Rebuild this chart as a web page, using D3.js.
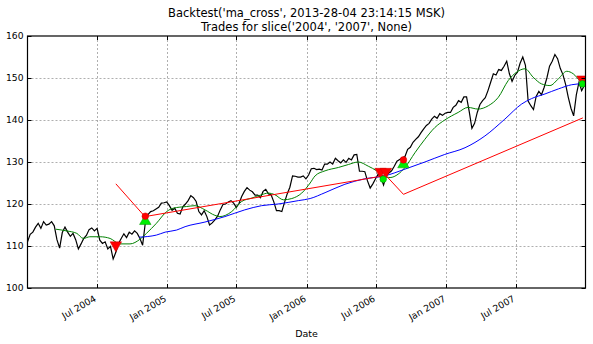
<!DOCTYPE html>
<html><head><meta charset="utf-8">
<script src="https://cdn.jsdelivr.net/npm/d3@7"></script>
<style>html,body{margin:0;padding:0;background:#fff}svg{display:block;font-family:"DejaVu Sans",sans-serif}</style>
</head><body><svg id="c" width="593" height="344"></svg>
<script>
const titleLines = ["Backtest('ma_cross', 2013-28-04 23:14:15 MSK)", "Trades for slice('2004', '2007', None)"];
const xLabel = "Date";
const xTickDates = ["2004-07-01","2005-01-01","2005-07-01","2006-01-01","2006-07-01","2007-01-01","2007-07-01"];
const xTickLabels = ["Jul 2004","Jan 2005","Jul 2005","Jan 2006","Jul 2006","Jan 2007","Jul 2007"];
const yTicks = [100,110,120,130,140,150,160];
const xDomain = ["2004-01-02","2007-12-31"];
const yDomain = [100,160];

// weekly closes, first week ending 2004-01-02
const priceStartDate = "2004-01-02";
const priceWeekly = [
111,112.8,113.3,114.5,115.4,114.2,115.8,115,115.2,115.8,
114.8,111.5,109.5,113.2,114.5,113.3,112.3,113,111.5,109.3,
110.5,111.8,112.5,113.9,114.3,113.6,114.2,111.4,110.6,111,
109.3,109.9,106.9,108.5,110.6,111.8,112.9,112.0,113.3,112.8,
113.6,113.0,111.8,110.2,115.5,117.5,118.2,118.4,118.8,119.2,
120.2,120.3,120.5,119.6,118.5,119,117.8,117.6,119.3,120,
120.8,122,121.5,120.6,118.2,117.4,118.4,117,115,115.5,
116.2,117.1,118.6,119.9,120,120.5,120.8,120.2,119.2,120.1,
121.8,123,123.9,123.3,122.9,122.1,122.1,121.5,123,123.5,
122.4,122.2,120.5,118.4,118.4,118.2,120.4,122.4,124,126.7,
126.6,126.4,126.4,126.7,126.0,126.9,128.4,128.5,128.2,128.3,
128.1,129.5,129.5,130,129.5,130.9,130.3,129.8,130.5,129.9,
130.9,130.5,131.7,131.8,127.8,127.8,127.7,125.5,123.8,124.8,
126,127.1,126.3,124.5,126.8,127.4,127.9,129,130.2,130.6,
131,131.3,133,133.5,134.7,135.4,136,137,137.9,138.7,
139.2,140.2,140.9,140.4,141.5,141.1,141.6,141.8,141.8,143,
143.5,144.6,144.2,145.5,145.5,142,138,139.2,141.8,143.7,
144.6,145.3,147,149,151,150.7,152,151.8,152.8,154,
151,149.2,150.6,151.4,153.5,155,153,144.5,143.4,142.5,
145.6,146.8,146,147.8,150,152.8,154,155.6,154.6,152.3,
150.8,148.5,145.4,142.8,141,146,149,147,148.2
];

const fastMADates = ["2004-03-16","2004-04-13","2004-05-10","2004-05-27","2004-06-13","2004-07-10","2004-08-05","2004-08-31","2004-09-26","2004-10-22","2004-11-08","2004-12-04","2004-12-31","2005-01-17","2005-02-21","2005-03-15","2005-04-10","2005-05-06","2005-05-19","2005-06-19","2005-07-15","2005-08-10","2005-09-05","2005-09-22","2005-10-10","2005-11-01","2005-11-23","2005-12-19","2006-01-10","2006-01-23","2006-02-18","2006-03-25","2006-04-20","2006-05-16","2006-06-11","2006-07-03","2006-07-20","2006-08-07","2006-08-28","2006-09-15","2006-10-11","2006-11-06","2006-12-02","2006-12-28","2007-02-01","2007-02-27","2007-03-25","2007-04-21","2007-05-17","2007-06-12","2007-07-04","2007-07-26","2007-08-16","2007-09-07","2007-09-29","2007-10-21","2007-11-12","2007-11-29","2007-12-16","2007-12-31"];
const fastMAValues = [114.0,113.6,113.0,111.8,112.2,112.2,111.8,110.5,110.5,111.6,113.0,115.4,118.2,119.0,119.4,119.6,118.6,117.3,117.0,118.2,120.6,121.4,122.2,122.6,122.2,121.0,121.3,122.6,125.0,126.7,127.9,128.7,129.4,130.0,129.0,127.9,126.7,126.3,127.1,128.7,132.2,135.4,138.2,140.0,141.8,143.0,142.6,143.4,145.4,149.4,151.4,152.2,150.2,148.6,148.2,149.8,151.6,151.0,149.4,148.6];

const slowMADates = ["2004-10-20","2004-12-04","2004-12-27","2005-01-26","2005-02-17","2005-04-10","2005-06-01","2005-07-23","2005-09-05","2005-10-18","2005-12-10","2006-01-10","2006-02-18","2006-04-11","2006-06-02","2006-07-24","2006-09-15","2006-11-06","2006-12-28","2007-02-19","2007-04-12","2007-06-03","2007-07-17","2007-08-12","2007-09-16","2007-10-21","2007-11-25","2007-12-31"];
const slowMAValues = [112.1,112.6,113.3,113.8,114.6,115.7,117.0,118.6,119.6,120.0,120.8,121.3,122.7,124.7,126.0,126.7,128.3,130.0,131.8,133.4,136.2,140.2,143.8,145.1,146.2,147.4,148.4,148.7];

const equityDates = ["2004-08-20","2004-11-04","2006-07-27","2006-09-11","2007-12-24"];
const equityValues = [124.8,117.0,126.8,122.3,140.5];

const buyDates = ["2004-11-05","2006-09-11"];
const buyValues = [116.3,129.8];
const sellDates = ["2004-08-20","2006-07-13","2006-07-27","2007-12-23"];
const sellValues = [109.8,127.3,127.3,149.3];
const redDotDates = ["2004-11-05","2006-09-11"];
const redDotValues = [117.1,130.5];
const greenDotDates = ["2006-07-20","2007-12-23"];
const greenDotValues = [125.9,148.6];

const parse = d3.timeParse("%Y-%m-%d");
const W = 593, H = 344;
const L = 27.5, R = 585.5, T = 36, B = 288;
const svg = d3.select("#c");

const x = d3.scaleTime().domain(xDomain.map(parse)).range([L, R]);
const y = d3.scaleLinear().domain(yDomain).range([B, T]);

svg.append("defs").append("clipPath").attr("id","clip")
  .append("rect").attr("x",L).attr("y",T).attr("width",R-L).attr("height",B-T);

// grid
const grid = svg.append("g").attr("stroke","#9a9a9a").attr("stroke-width",0.8).attr("stroke-dasharray","2,2").attr("fill","none");
xTickDates.forEach(d => {
  const px = Math.round(x(parse(d))) + 0.5;
  grid.append("line").attr("x1",px).attr("x2",px).attr("y1",T).attr("y2",B);
});
yTicks.forEach(v => {
  if (v === yDomain[0] || v === yDomain[1]) return;
  const py = Math.round(y(v)) + 0.5;
  grid.append("line").attr("x1",L).attr("x2",R).attr("y1",py).attr("y2",py);
});

const start = parse(priceStartDate);
const price = priceWeekly.map((v,i) => ({d: d3.timeDay.offset(start, 7*i), v}));
const pairs = (ds, vs) => ds.map((d,i) => ({d: parse(d), v: vs[i]}));

const plot = svg.append("g").attr("clip-path","url(#clip)");
const lineStraight = d3.line().x(p => x(p.d)).y(p => y(p.v));
const lineSmooth = d3.line().x(p => x(p.d)).y(p => y(p.v)).curve(d3.curveMonotoneX);

plot.append("path").datum(price).attr("d", lineStraight)
  .attr("fill","none").attr("stroke","#000").attr("stroke-width",1.2).attr("stroke-linejoin","miter");
plot.append("path").datum(pairs(fastMADates, fastMAValues)).attr("d", lineSmooth)
  .attr("fill","none").attr("stroke","#008000").attr("stroke-width",1);
plot.append("path").datum(pairs(slowMADates, slowMAValues)).attr("d", lineSmooth)
  .attr("fill","none").attr("stroke","#0000ff").attr("stroke-width",1);
plot.append("path").datum(pairs(equityDates, equityValues)).attr("d", lineStraight)
  .attr("fill","none").attr("stroke","#ff0000").attr("stroke-width",1);

// markers
const tw = 11.5, th = 10;
const upTri = `M0,${-th/2}L${tw/2},${th/2}L${-tw/2},${th/2}Z`;
const downTri = `M0,${th/2}L${tw/2},${-th/2}L${-tw/2},${-th/2}Z`;
const mk = svg.append("g").attr("clip-path","url(#clip)");
mk.selectAll(".sell").data(pairs(sellDates, sellValues)).enter().append("path")
  .attr("d", downTri).attr("transform", p => `translate(${x(p.d)},${y(p.v)})`)
  .attr("fill","#ff0000").attr("stroke","#cc0000").attr("stroke-width",0.5);
mk.selectAll(".buy").data(pairs(buyDates, buyValues)).enter().append("path")
  .attr("d", upTri).attr("transform", p => `translate(${x(p.d)},${y(p.v)})`)
  .attr("fill","#00ee00").attr("stroke","#009900").attr("stroke-width",0.5);
mk.selectAll(".rdot").data(pairs(redDotDates, redDotValues)).enter().append("circle")
  .attr("cx", p => x(p.d)).attr("cy", p => y(p.v)).attr("r",3.3)
  .attr("fill","#ff0000").attr("stroke","#cc0000").attr("stroke-width",0.5);
mk.selectAll(".gdot").data(pairs(greenDotDates, greenDotValues)).enter().append("circle")
  .attr("cx", p => x(p.d)).attr("cy", p => y(p.v)).attr("r",3.3)
  .attr("fill","#00ee00").attr("stroke","#009900").attr("stroke-width",0.5);

// frame
svg.append("rect").attr("x",L).attr("y",T).attr("width",R-L).attr("height",B-T)
  .attr("fill","none").attr("stroke","#000").attr("stroke-width",1.2);

// inner ticks
const tk = svg.append("g").attr("stroke","#000").attr("stroke-width",1);
xTickDates.forEach(d => {
  const px = Math.round(x(parse(d))) + 0.5;
  tk.append("line").attr("x1",px).attr("x2",px).attr("y1",B).attr("y2",B-4);
  tk.append("line").attr("x1",px).attr("x2",px).attr("y1",T).attr("y2",T+4);
});
yTicks.forEach(v => {
  const py = Math.round(y(v)) + 0.5;
  tk.append("line").attr("x1",L).attr("x2",L+4).attr("y1",py).attr("y2",py);
  tk.append("line").attr("x1",R).attr("x2",R-4).attr("y1",py).attr("y2",py);
});

// y labels
svg.append("g").selectAll("text").data(yTicks).enter().append("text")
  .attr("x", L-4).attr("y", v => y(v)).attr("dy","0.36em")
  .attr("text-anchor","end").attr("font-size",9.2).attr("fill","#000").text(v => v);

// x labels rotated
svg.append("g").selectAll("text").data(xTickDates).enter().append("text")
  .attr("transform", (d) => `translate(${x(parse(d))},${B+12.5}) rotate(-30)`)
  .attr("text-anchor","end").attr("font-size",9.2).attr("fill","#000")
  .text((d,i) => xTickLabels[i]);

svg.append("text").attr("x",(L+R)/2).attr("y",337).attr("text-anchor","middle")
  .attr("font-size",9.5).attr("fill","#000").text(xLabel);

svg.append("g").selectAll("text").data(titleLines).enter().append("text")
  .attr("x",(L+R)/2).attr("y",(d,i) => 17 + i*13.5).attr("text-anchor","middle")
  .attr("font-size",11.5).attr("fill","#000").text(d => d);
</script></body></html>
